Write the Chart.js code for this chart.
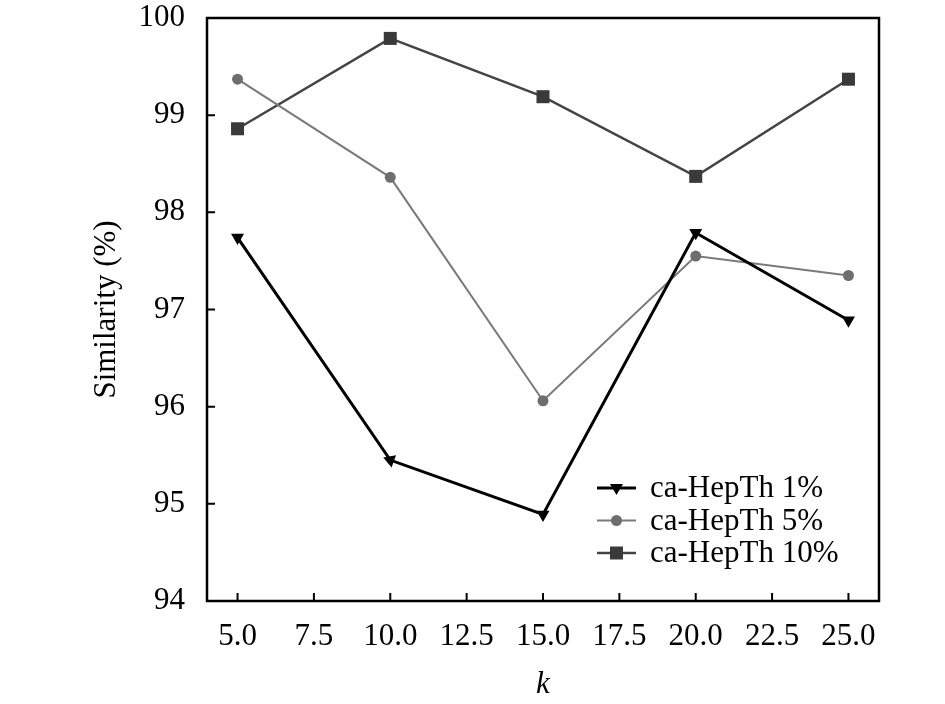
<!DOCTYPE html>
<html>
<head>
<meta charset="utf-8">
<script src="https://cdn.jsdelivr.net/npm/chart.js@4/dist/chart.umd.min.js"></script>
<style>
  html, body { margin: 0; padding: 0; background: #fff; }
  #wrap { width: 945px; height: 704px; }
</style>
</head>
<body>
<div id="wrap"><canvas id="myChart"></canvas></div>
<script>
const kValues = [5, 10, 15, 20, 25];
const sim1 = [97.74, 95.45, 94.89, 97.79, 96.89];
const sim5 = [99.37, 98.36, 96.06, 97.55, 97.35];
const sim10 = [98.86, 99.79, 99.19, 98.37, 99.37];
const seriesLabels = ['ca-HepTh 1%', 'ca-HepTh 5%', 'ca-HepTh 10%'];
const xTicks = [5, 7.5, 10, 12.5, 15, 17.5, 20, 22.5, 25];
const yTicks = [94, 95, 96, 97, 98, 99, 100];

const toPoints = vals => vals.map((v, i) => ({ x: kValues[i], y: v }));

const serif = "'Liberation Serif', 'DejaVu Serif', serif";

// box around the plot, inward ticks on left and bottom, legend inside
const framePlugin = {
  id: 'frame',
  afterDraw(chart) {
    const { ctx, chartArea: a, scales } = chart;
    ctx.save();
    ctx.strokeStyle = '#000';
    ctx.lineWidth = 2.5;
    ctx.strokeRect(a.left, a.top, a.right - a.left, a.bottom - a.top);
    ctx.lineWidth = 2;
    ctx.beginPath();
    yTicks.forEach(v => {
      const y = scales.y.getPixelForValue(v);
      ctx.moveTo(a.left, y);
      ctx.lineTo(a.left + 8, y);
    });
    xTicks.forEach(v => {
      const x = scales.x.getPixelForValue(v);
      ctx.moveTo(x, a.bottom);
      ctx.lineTo(x, a.bottom - 8);
    });
    ctx.stroke();

    // legend
    const lx = 597, ly = 488, gap = 32.5;
    chart.data.datasets.forEach((ds, i) => {
      const y = ly + i * gap;
      ctx.strokeStyle = ds.borderColor;
      ctx.lineWidth = ds.borderWidth;
      ctx.beginPath();
      ctx.moveTo(lx, y);
      ctx.lineTo(lx + 39, y);
      ctx.stroke();
      ctx.fillStyle = ds.pointBackgroundColor;
      const cx = lx + 19.5;
      ctx.beginPath();
      if (ds.pointStyle === 'triangle') {
        ctx.moveTo(cx - 6.5, y - 4);
        ctx.lineTo(cx + 6.5, y - 4);
        ctx.lineTo(cx, y + 7);
        ctx.closePath();
      } else if (ds.pointStyle === 'circle') {
        ctx.arc(cx, y, 5.5, 0, Math.PI * 2);
      } else {
        ctx.rect(cx - 6.5, y - 6.5, 13, 13);
      }
      ctx.fill();
      ctx.fillStyle = '#000';
      ctx.font = '31px ' + serif;
      ctx.textBaseline = 'middle';
      ctx.textAlign = 'left';
      ctx.fillText(ds.label, lx + 53, y + 1);
    });
    ctx.restore();
  }
};

new Chart(document.getElementById('myChart').getContext('2d'), {
  type: 'line',
  data: {
    datasets: [{
      label: seriesLabels[0],
      data: toPoints(sim1),
      borderColor: '#000',
      borderWidth: 3,
      pointStyle: 'triangle',
      pointRotation: [180, 290, 180, 180, 180],
      pointRadius: 7.5,
      pointBackgroundColor: '#000',
      pointBorderWidth: 0
    }, {
      label: seriesLabels[1],
      data: toPoints(sim5),
      borderColor: '#7a7a7a',
      borderWidth: 2,
      pointStyle: 'circle',
      pointRadius: 5.5,
      pointBackgroundColor: '#6e6e6e',
      pointBorderWidth: 0
    }, {
      label: seriesLabels[2],
      data: toPoints(sim10),
      borderColor: '#444',
      borderWidth: 2.5,
      pointStyle: 'rect',
      pointRadius: 9.2,
      pointBackgroundColor: '#3a3a3a',
      pointBorderWidth: 0
    }]
  },
  options: {
    responsive: true,
    maintainAspectRatio: false,
    animation: false,
    layout: { padding: { left: 0, right: 66, top: 18, bottom: 0 } },
    plugins: {
      legend: { display: false },
      tooltip: { enabled: false }
    },
    scales: {
      x: {
        type: 'linear',
        min: 4,
        max: 26,
        afterBuildTicks: scale => { scale.ticks = xTicks.map(v => ({ value: v })); },
        afterFit: scale => {
          scale.height = 103;
          scale.paddingLeft = 0;
          scale.paddingRight = 0;
        },
        grid: { display: false, drawTicks: false },
        border: { display: false },
        ticks: {
          padding: 17,
          color: '#000',
          font: { family: serif, size: 31 },
          maxRotation: 0,
          autoSkip: false,
          callback: v => v.toFixed(1)
        },
        title: {
          display: true,
          text: 'k',
          color: '#000',
          font: { family: serif, size: 31, style: 'italic' },
          padding: { top: 0, bottom: 1 }
        }
      },
      y: {
        min: 94,
        max: 100,
        afterBuildTicks: scale => { scale.ticks = yTicks.map(v => ({ value: v })); },
        afterFit: scale => {
          scale.width = 207;
          scale.paddingTop = 0;
          scale.paddingBottom = 0;
        },
        grid: { display: false, drawTicks: false },
        border: { display: false },
        ticks: {
          padding: 22,
          color: '#000',
          font: { family: serif, size: 31 }
        },
        title: {
          display: true,
          text: 'Similarity (%)',
          color: '#000',
          font: { family: serif, size: 31 },
          padding: { top: 88, bottom: 0 }
        }
      }
    }
  },
  plugins: [framePlugin]
});
</script>
</body>
</html>
